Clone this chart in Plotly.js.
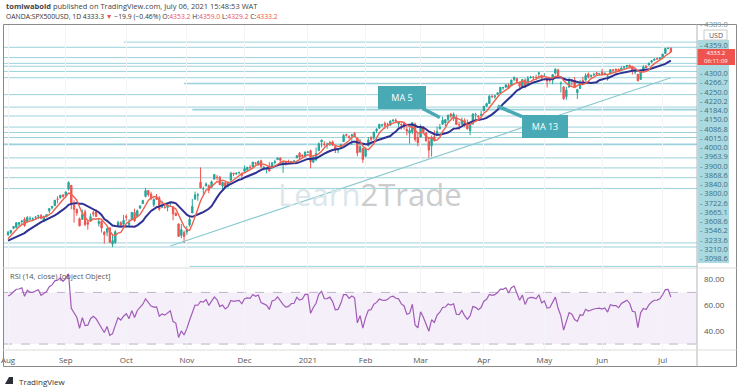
<!DOCTYPE html>
<html><head><meta charset="utf-8">
<script src="https://cdn.plot.ly/plotly-3.0.1.min.js"></script>
<style>html,body{margin:0;padding:0;background:#fff}#chart{width:740px;height:389px}</style>
</head><body><div id="chart"></div>
<script>
// ---------- DATA ----------
const firstBarDate = '2020-08-03';
// July 2020 closes (before the visible window, used to seed MA / RSI)
const warmupCloses = [3115,3130,3140,3180,3145,3169,3152,3185,3155,3197,3227,3216,3225,3251,3257,3276,3236,3216,3239,3218,3258,3246,3271];
const opens = [
 3280,3293,3318,3323,3341,3356,3370,3355,3372,3368,3381,3388,3392,3361,3386,3418,3436,3449,3486,3494,3509,
 3507,3543,3565,3453,3427,3372,3369,3412,3352,3364,3407,3411,3346,3357,3296,3295,3320,3226,3236,3333,3350,3341,
 3385,3339,3368,3409,3385,3434,3460,3501,3535,3515,3453,3493,3493,3439,3439,3438,3464,3441,3403,3343,3277,3293,
 3296,3337,3406,3485,3508,3583,3544,3563,3563,3553,3600,3611,3612,3560,3580,3567,3594,3635,3630,3638,3634,
 3645,3654,3669,3671,3694,3683,3706,3660,3656,3675,3666,3696,3713,3722,3684,3698,3693,3694,3703,3723,3750,3737,3733,
 3756,3764,3698,3712,3764,3815,3803,3801,3802,3814,3788,3768,3781,3816,3857,3844,3851,3863,3837,3756,3778,
 3732,3791,3840,3837,3878,3893,3910,3921,3917,3912,3935,3940,3918,3916,3921,3886,3865,3873,3916,3840,
 3842,3903,3864,3818,3793,3844,3851,3891,3916,3924,3943,3974,3949,3953,3914,3917,3937,3919,3879,3917,3969,3963,3967,
 3993,4020,4035,4075,4074,4089,4096,4125,4130,4141,4139,4174,4180,4159,4128,4170,4139,4185,4188,4185,4206,4198,
 4192,4180,4177,4170,4210,4228,4150,4131,4075,4130,4170,4169,4098,4122,4168,4170,4205,4192,4201,4211,4204,
 4216,4207,4191,4207,4230,4234,4232,4228,4242,4248,4256,4249,4216,4204,4174,4225,4250,4257,4274,4285,4293,4291,
 4301,4323,4352,4353.2];
const highs = [
 3302,3308,3330,3352,3353,3364,3381,3388,3387,3380,3388,3395,3399,3390,3399,3433,3445,3481,3502,3510,3515,
 3529,3588,3565,3479,3430,3380,3425,3425,3368,3402,3419,3428,3376,3362,3301,3320,3323,3279,3307,3361,3358,3394,
 3398,3370,3410,3431,3426,3447,3482,3550,3535,3528,3490,3515,3502,3477,3465,3461,3466,3441,3410,3345,3342,3305,
 3331,3389,3486,3529,3521,3668,3557,3582,3570,3593,3628,3624,3619,3585,3582,3589,3643,3635,3640,3645,3638,
 3679,3670,3682,3699,3698,3708,3712,3678,3665,3698,3695,3712,3725,3726,3702,3703,3712,3704,3708,3740,3757,3744,3760,
 3760,3770,3738,3783,3811,3827,3818,3811,3820,3823,3796,3775,3804,3860,3862,3853,3860,3871,3837,3830,3778,
 3784,3843,3847,3872,3894,3916,3919,3932,3925,3937,3945,3950,3933,3921,3931,3903,3895,3928,3926,3861,
 3915,3906,3873,3844,3852,3881,3903,3918,3960,3944,3970,3982,3984,3971,3931,3955,3950,3944,3919,3978,3982,3969,3994,
 4021,4040,4084,4087,4084,4099,4129,4131,4148,4152,4173,4192,4180,4160,4175,4179,4194,4195,4193,4201,4218,4199,
 4209,4187,4187,4202,4238,4236,4162,4135,4132,4183,4170,4188,4120,4172,4189,4210,4214,4203,4213,4218,4212,
 4234,4216,4204,4234,4232,4236,4237,4249,4249,4256,4258,4252,4233,4205,4227,4256,4256,4272,4286,4292,4300,4302,
 4321,4355,4358,4359.0];
const lows = [
 3275,3285,3312,3318,3330,3335,3326,3350,3363,3357,3370,3370,3369,3354,3380,3405,3426,3444,3461,3487,3494,
 3494,3535,3427,3350,3390,3329,3366,3329,3310,3363,3385,3384,3328,3293,3230,3271,3232,3209,3228,3330,3327,3336,
 3361,3323,3366,3354,3385,3428,3458,3496,3501,3480,3440,3482,3419,3434,3433,3415,3440,3364,3388,3268,3260,3233,
 3280,3327,3405,3485,3476,3547,3511,3557,3519,3553,3600,3595,3567,3543,3556,3552,3594,3618,3626,3629,3595,
 3645,3645,3658,3670,3683,3679,3661,3650,3633,3645,3660,3685,3710,3685,3637,3678,3690,3689,3698,3723,3716,3730,3726,
 3750,3663,3695,3705,3764,3783,3789,3776,3792,3792,3750,3750,3780,3816,3845,3831,3797,3847,3732,3756,3694,
 3725,3791,3817,3827,3866,3892,3902,3889,3890,3906,3930,3923,3900,3885,3885,3852,3805,3860,3816,3789,
 3842,3868,3818,3723,3730,3818,3851,3886,3916,3905,3924,3950,3935,3914,3884,3911,3901,3888,3853,3917,3944,3944,3967,
 3992,4018,4035,4069,4063,4083,4093,4114,4124,4120,4139,4164,4150,4119,4127,4123,4139,4180,4176,4181,4176,4174,
 4188,4128,4158,4147,4202,4187,4099,4057,4057,4127,4138,4124,4061,4119,4152,4168,4180,4185,4194,4202,4200,
 4197,4199,4167,4207,4218,4208,4218,4225,4233,4235,4244,4202,4203,4164,4174,4217,4240,4255,4270,4280,4287,4290,
 4300,4322,4348,4329.2];
const closes = [
 3295,3306,3328,3349,3351,3360,3334,3380,3373,3373,3382,3390,3375,3386,3397,3431,3444,3479,3485,3508,3500,
 3527,3581,3455,3427,3405,3332,3399,3339,3341,3384,3401,3385,3357,3319,3281,3316,3237,3247,3298,3352,3335,3363,
 3381,3348,3409,3361,3419,3447,3477,3534,3512,3489,3483,3484,3427,3443,3436,3453,3465,3401,3391,3271,3310,3270,
 3310,3369,3443,3510,3509,3550,3546,3573,3537,3585,3627,3610,3568,3582,3558,3578,3635,3630,3634,3638,3622,
 3662,3669,3667,3699,3692,3702,3673,3668,3663,3647,3695,3701,3722,3709,3695,3687,3690,3703,3705,3735,3727,3732,3756,
 3756,3701,3727,3748,3804,3825,3800,3801,3810,3796,3768,3770,3799,3852,3853,3841,3855,3850,3751,3787,3714,
 3774,3826,3830,3872,3887,3916,3911,3910,3916,3935,3940,3933,3931,3914,3907,3877,3881,3925,3829,3811,
 3902,3870,3820,3768,3842,3821,3875,3899,3939,3943,3969,3963,3974,3915,3913,3941,3911,3889,3910,3975,3971,3959,3973,
 4020,4035,4078,4074,4080,4097,4129,4128,4142,4125,4170,4185,4163,4135,4173,4135,4180,4188,4187,4183,4211,4181,
 4193,4165,4168,4202,4233,4188,4152,4063,4113,4174,4163,4128,4116,4159,4156,4197,4188,4196,4201,4204,4206,
 4202,4208,4193,4230,4227,4227,4220,4239,4247,4255,4247,4224,4222,4166,4225,4246,4242,4266,4281,4291,4292,4298,
 4320,4352,4353,4333.2];
const monthTickDates = ['2020-08-03','2020-09-01','2020-10-01','2020-11-02','2020-12-01','2021-01-01','2021-02-01','2021-03-01','2021-04-01','2021-05-03','2021-06-01','2021-07-01'];
const monthTickLabels = ['Aug','Sep','Oct','Nov','Dec','2021','Feb','Mar','Apr','May','Jun','Jul'];
// horizontal levels drawn on the chart
const levelPrices = [4389.0,4359.0,4300.0,4266.7,4250.0,4220.2,4184.0,4150.0,4086.8,4015.0,4000.0,3963.9,3900.0,3868.6,3840.0,3800.0,3722.6,3665.1,3608.6,3546.2,3233.6,3210.0,3098.6];
const levelStarts = ['2020-09-30',null,null,null,null,null,null,'2020-10-30',null,null,'2020-11-04',null,null,null,null,null,null,null,null,null,null,null,'2020-11-03'];
const levelWidths = [1,1,1,1,1,1,1,1.5,1,1,1.8,1,1,1,1,1.8,1,1,1,1,1,1,1];
// right-hand price-scale label stack
const scaleLabels = ['4300.0','4266.7','4250.0','4220.2','4184.0','4150.0','4086.8','4015.0','4000.0','3963.9','3900.0','3868.6','3840.0','3800.0','3722.6','3665.1','3608.6','3546.2','3233.6','3210.0','3098.6'];
const topScaleLabels = ['4389.0','4359.0'];
const lastPriceLabel = '4333.2';
const countdownLabel = '06:11:09';
const trendLine = {x: ['2020-10-23','2021-07-06'], y: [3216, 4184]};
const rsiTickVals = [40,60,80];
const rsiBand = [30,70];

// ---------- DERIVED ----------
function weekdayDates(start, n){
  const out=[]; const d=new Date(start+'T00:00:00Z');
  while(out.length<n){ const w=d.getUTCDay(); if(w!==0&&w!==6) out.push(d.toISOString().slice(0,10)); d.setUTCDate(d.getUTCDate()+1);}
  return out;
}
const dates = weekdayDates(firstBarDate, closes.length);
const allCloses = warmupCloses.concat(closes);
const W = warmupCloses.length;
function sma(arr,n){return arr.map((v,i)=> i<n-1?null: arr.slice(i-n+1,i+1).reduce((a,b)=>a+b,0)/n);}
const ma5 = sma(allCloses,5).slice(W);
const ma13 = sma(allCloses,13).slice(W);
function rsi(arr,n){
  const out=new Array(arr.length).fill(null); let g=0,l=0;
  for(let i=1;i<=n;i++){const ch=arr[i]-arr[i-1]; if(ch>0)g+=ch; else l-=ch;}
  g/=n; l/=n; out[n]=100-100/(1+g/l);
  for(let i=n+1;i<arr.length;i++){const ch=arr[i]-arr[i-1]; g=(g*(n-1)+Math.max(ch,0))/n; l=(l*(n-1)+Math.max(-ch,0))/n; out[i]= l===0?100:100-100/(1+g/l);}
  return out;
}
const rsi14 = rsi(allCloses,14).slice(W);

// ---------- GEOMETRY ----------
const FW=740, FH=389, ML=3, MR=43, MT=24, MB=39;
const PW=FW-ML-MR, PH=FH-MT-MB;
const px = v => (v-ML)/PW;           // pixel x -> paper
const py = v => (FH-MB-v)/PH;        // pixel y -> paper
const xRange = ['2020-07-30 04:00','2021-07-19 12:00'];
const mainDomain=[py(267),1], rsiDomain=[0,py(269)];

const teal='#49aab5', lineTeal='#9bd2db';
const font="'Open Sans', 'Noto Sans', sans-serif";

const traces = [
 {type:'candlestick', x:dates, open:opens, high:highs, low:lows, close:closes, xaxis:'x', yaxis:'y',
  increasing:{line:{color:'#26a69a',width:1}, fillcolor:'#26a69a'},
  decreasing:{line:{color:'#ef5350',width:1}, fillcolor:'#ef5350'}, whiskerwidth:0, hoverinfo:'skip'},
 {type:'scatter', mode:'lines', x:dates, y:ma13, line:{color:'#2e3192',width:2}, xaxis:'x', yaxis:'y', hoverinfo:'skip'},
 {type:'scatter', mode:'lines', x:dates, y:ma5, line:{color:'#f0624f',width:1.4}, xaxis:'x', yaxis:'y', hoverinfo:'skip'},
 {type:'scatter', mode:'lines', x:dates, y:rsi14, line:{color:'#a15cb8',width:1.2}, xaxis:'x', yaxis:'y2', hoverinfo:'skip'}
];

const shapes = [];
levelPrices.forEach((p,i)=>{
  shapes.push({type:'line', xref:'x', yref:'y', x0: levelStarts[i]||xRange[0], x1:xRange[1], y0:p, y1:p,
    line:{color:lineTeal, width:levelWidths[i]}, layer:'below'});
});
shapes.push({type:'line', xref:'x', yref:'y', x0:trendLine.x[0], x1:trendLine.x[1], y0:trendLine.y[0], y1:trendLine.y[1], line:{color:'#8cc9cf',width:1.2}});
shapes.push({type:'rect', xref:'paper', yref:'y2', x0:0, x1:1, y0:rsiBand[0], y1:rsiBand[1], fillcolor:'rgba(156,95,200,0.1)', line:{width:0}, layer:'below'});
rsiBand.forEach(v=>shapes.push({type:'line', xref:'paper', yref:'y2', x0:0, x1:1, y0:v, y1:v, line:{color:'#bfb0cc',width:1,dash:'dash'}, layer:'below'}));
shapes.push({type:'rect', xref:'paper', yref:'paper', x0:px(3.5), x1:px(736.5), y0:py(366.5), y1:py(24.5), line:{color:'#8a8a8a',width:1}, fillcolor:'rgba(0,0,0,0)'});
shapes.push({type:'line', xref:'paper', yref:'paper', x0:1, x1:1, y0:py(366.5), y1:py(24.5), line:{color:'#b5b5b5',width:1}});
shapes.push({type:'line', xref:'paper', yref:'paper', x0:0, x1:px(736.5), y0:py(268), y1:py(268), line:{color:'#dcdcdc',width:1}});
shapes.push({type:'line', xref:'paper', yref:'paper', x0:0, x1:px(736.5), y0:0, y1:0, line:{color:'#dcdcdc',width:1}});
shapes.push({type:'rect', xref:'paper', yref:'paper', x0:px(697.5), x1:px(729), y0:py(263), y1:py(40), fillcolor:'#aad9e2', line:{width:0}});
shapes.push({type:'rect', xref:'paper', yref:'paper', x0:px(697.5), x1:px(735), y0:py(65), y1:py(49), fillcolor:'#ef5350', line:{width:0}});
shapes.push({type:'rect', xref:'paper', yref:'paper', x0:px(704), x1:px(727), y0:py(40), y1:py(30), fillcolor:'#ffffff', line:{color:'#c9c9c9',width:1}});
shapes.push({type:'path', xref:'paper', yref:'paper', path:`M ${px(5)},${py(384)} L ${px(13)},${py(384)} L ${px(13)},${py(377)} L ${px(9)},${py(377)} Z`, fillcolor:'#2a2e39', line:{width:0}});

const annotations = [];
const A = (o)=>annotations.push(Object.assign({showarrow:false, xref:'paper', yref:'paper', font:{family:font,size:8,color:'#333'}}, o));
A({x:px(4), y:py(6), xanchor:'left', yanchor:'middle', text:'<b>tomiwabold</b> published on TradingView.com, July 06, 2021 15:48:53 WAT', font:{family:font,size:7.5,color:'#444'}});
A({x:px(4), y:py(17), xanchor:'left', yanchor:'middle', text:'OANDA:SPX500USD, 1D 4333.3 <span style="color:#ef5350">▼</span> −19.9 (−0.46%) O:<span style="color:#ef5350">4353.2</span> H:<span style="color:#ef5350">4359.0</span> L:<span style="color:#ef5350">4329.2</span> C:<span style="color:#ef5350">4333.2</span>', font:{family:font,size:6.8,color:'#333'}});
scaleLabels.forEach((t,i)=>A({x:px(698), y:py(73+9.25*i), xanchor:'left', yanchor:'middle', text:'- '+t, font:{family:font,size:7.5,color:'#3f6f7a'}}));
A({x:px(698), y:py(24), xanchor:'left', yanchor:'middle', text:'- '+topScaleLabels[0], font:{family:font,size:7.5,color:'#6f8f96'}});
A({x:px(698), y:py(45), xanchor:'left', yanchor:'middle', text:'- '+topScaleLabels[1], font:{family:font,size:7.5,color:'#3f6f7a'}});
A({x:px(716), y:py(35), xanchor:'center', yanchor:'middle', text:'USD', font:{family:font,size:7,color:'#555'}});
A({x:px(716), y:py(57), xanchor:'center', yanchor:'middle', text:lastPriceLabel+'<br>'+countdownLabel, font:{family:font,size:6,color:'#fff'}});
A({x:px(8), y:py(276), xanchor:'left', yanchor:'middle', text:'RSI (14, close) [object Object]', font:{family:font,size:7.5,color:'#555'}});
A({x:px(370), y:py(194), xanchor:'center', yanchor:'middle', text:'<span style="color:#dbe7ec">Learn</span><span style="color:#cdcdcd">2Trade</span>', font:{family:font,size:31,color:'#ccc'}});
A({x:px(17), y:py(381), xanchor:'left', yanchor:'middle', text:'TradingView', font:{family:font,size:8,color:'#333'}});
annotations.push({xref:'x', yref:'y', x:'2021-03-10', y:3955, ax:-38, ay:-20, text:'MA 5', showarrow:true, arrowhead:0, arrowwidth:3.5, arrowcolor:teal,
  bgcolor:teal, bordercolor:teal, borderpad:3, width:40, height:15, font:{family:font,size:9,color:'#fff'}, standoff:0});
annotations.push({xref:'x', yref:'y', x:'2021-04-08', y:4020, ax:47, ay:20, text:'MA 13', showarrow:true, arrowhead:0, arrowwidth:3.5, arrowcolor:teal,
  bgcolor:teal, bordercolor:teal, borderpad:3, width:38, height:15, font:{family:font,size:9,color:'#fff'}, standoff:0});

const layout = {
  width:FW, height:FH, margin:{l:ML,r:MR,t:MT,b:MB}, paper_bgcolor:'#fff', plot_bgcolor:'#fff',
  showlegend:false, font:{family:font,size:8,color:'#555'},
  xaxis:{type:'date', range:xRange, anchor:'y2', rangebreaks:[{bounds:['sat','mon']}], rangeslider:{visible:false},
    tickvals:monthTickDates, ticktext:monthTickLabels, tickfont:{size:8,color:'#555'}, ticks:'', ticklabelstandoff:4, showgrid:true, gridcolor:'#f2f4f7',
    zeroline:false, showline:false, fixedrange:true},
  yaxis:{domain:mainDomain, range:[3095,4493], showticklabels:false, showgrid:false, zeroline:false, fixedrange:true},
  yaxis2:{domain:rsiDomain, range:[25.4,88.1], side:'right', tickvals:rsiTickVals, tickformat:'.2f', tickfont:{size:8,color:'#555'},
    ticklabelstandoff:6, showgrid:false, zeroline:false, ticks:'', fixedrange:true},
  shapes, annotations
};
Plotly.newPlot('chart', traces, layout, {staticPlot:true, displayModeBar:false});
</script></body></html>
